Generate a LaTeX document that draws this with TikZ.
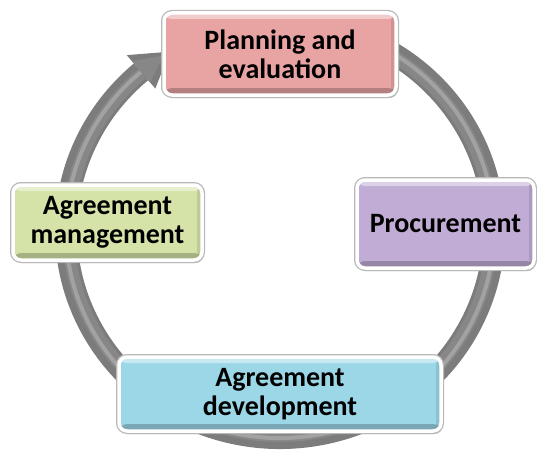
\documentclass[tikz,border=0pt]{standalone}
\usepackage{fontspec}
\setmainfont{Carlito}
\usetikzlibrary{shadows}

\definecolor{pinkfill}{HTML}{E8A3A3}
\definecolor{greenfill}{HTML}{D5E3A8}
\definecolor{purplefill}{HTML}{C0ACD4}
\definecolor{bluefill}{HTML}{9CD7E8}
\definecolor{ringdark}{HTML}{7C7C7C}
\definecolor{ringmid}{HTML}{878787}
\definecolor{ringlight}{HTML}{A2A2A2}

\tikzset{
  stagebox/.style={
    rounded corners=8pt, fill=#1, draw=white, line width=3.5pt,
    drop shadow={shadow xshift=1.5pt, shadow yshift=-3pt, opacity=0.35, fill=black!70},
    preaction={draw=black!28, line width=6pt},
    path picture={
      \fill[white, opacity=0.45]
        (path picture bounding box.north west) rectangle
        ([yshift=-6pt]path picture bounding box.north east);
      \fill[black, opacity=0.22]
        ([yshift=7pt]path picture bounding box.south west) rectangle
        (path picture bounding box.south east);
      \fill[black, opacity=0.10]
        ([xshift=-5pt]path picture bounding box.north east) rectangle
        (path picture bounding box.south east);
    },
    align=center, inner sep=0pt, text=black,
    font=\fontsize{28}{29}\selectfont\bfseries
  },
  ringband/.style={draw=ringdark, line width=22pt},
  ringinner/.style={draw=ringmid, line width=12pt},
  ringstripe/.style={draw=ringlight, line width=4pt}
}

\begin{document}
\begin{tikzpicture}[x=1pt, y=-1pt]
  \useasboundingbox (0,0) rectangle (537,452);

  % circular arrow running clockwise behind the stages
  \coordinate (c) at (280,230);
  \begin{scope}[shift={(c)}]
    \draw[ringband]   (-62:214 and 208) arc[start angle=-62, end angle=229.5, x radius=214, y radius=208];
    \draw[ringinner]  (-62:212 and 206) arc[start angle=-62, end angle=229.5, x radius=212, y radius=206];
    \draw[ringstripe] (-62:214 and 208) arc[start angle=-62, end angle=229.5, x radius=214, y radius=208];
    \fill[ringdark] (229.5:236 and 230) -- (239:214 and 208) -- (229.5:192 and 186) -- cycle;
    \fill[ringmid]  (229.5:228 and 222) -- (237:214 and 208) -- (229.5:200 and 194) -- cycle;
  \end{scope}

  % stages of the cycle
  \node[stagebox=pinkfill,   minimum width=232pt, minimum height=82pt] (plan) at (280,54)      {Planning and\\evaluation};
  \node[stagebox=purplefill, minimum width=177pt, minimum height=88pt] (proc) at (445.5,224)   {Procurement};
  \node[stagebox=bluefill,   minimum width=322pt, minimum height=74pt] (dev)  at (280,394)     {Agreement\\development};
  \node[stagebox=greenfill,  minimum width=189pt, minimum height=75pt] (mgmt) at (107.5,222.5) {Agreement\\management};
\end{tikzpicture}
\end{document}
